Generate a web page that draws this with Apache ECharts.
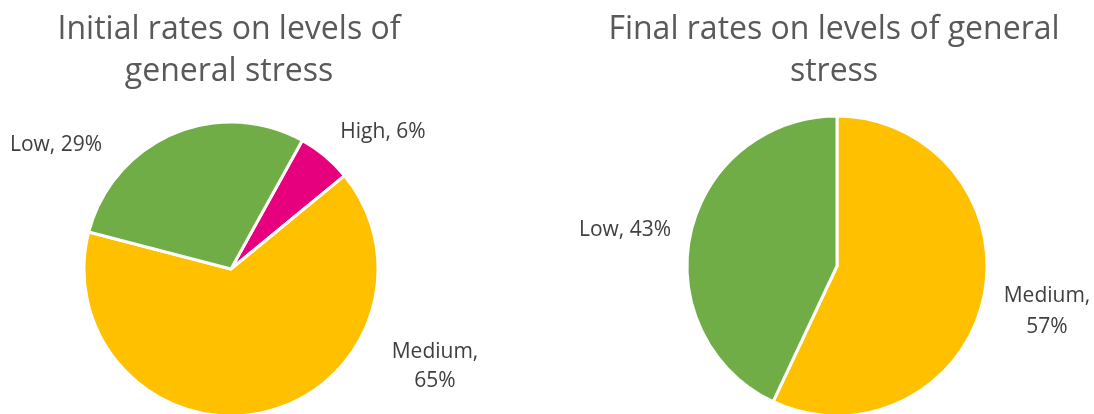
<!DOCTYPE html>
<html>
<head>
<meta charset="utf-8">
<script src="https://cdn.jsdelivr.net/npm/echarts@6/dist/echarts.min.js"></script>
<style>
html,body{margin:0;padding:0;background:#fff;}
#c{width:1094px;height:414px;}
</style>
</head>
<body>
<div id="c"></div>
<script>
// Data
const initialCategories = ['High', 'Medium', 'Low'];
const initialValues = [6, 65, 29];
const finalCategories = ['Medium', 'Low'];
const finalValues = [57, 43];
const titles = ['Initial rates on levels of\ngeneral stress', 'Final rates on levels of general\nstress'];

const colorMap = { High: '#E6007E', Medium: '#FFC000', Low: '#70AD47' };

// Label positions (layout)
const initialLabelPos = [[383, 132], [435, 367], [56, 145]];
const finalLabelPos = [[1047, 312], [625, 230]];

function labelText(p) {
  return p.name === 'Medium' ? p.name + ',\n' + p.value + '%' : p.name + ', ' + p.value + '%';
}

function buildSeries(cats, vals, center, radius, startAngle, pos, lh) {
  return {
    type: 'pie',
    center: center,
    radius: radius,
    startAngle: startAngle,
    clockwise: true,
    animation: false,
    data: cats.map((c, i) => ({ name: c, value: vals[i], itemStyle: { color: colorMap[c] } })),
    itemStyle: { borderColor: '#fff', borderWidth: 3 },
    label: {
      show: true,
      position: 'outside',
      formatter: labelText,
      fontFamily: 'Open Sans',
      fontSize: 21,
      lineHeight: lh,
      color: '#404040',
      align: 'center',
      overflow: 'none'
    },
    labelLine: { show: false },
    labelLayout: function (p) {
      const xy = pos[p.dataIndex];
      return { x: xy[0], y: xy[1], align: 'center', verticalAlign: 'middle' };
    },
    emphasis: { disabled: true }
  };
}

const chart = echarts.init(document.getElementById('c'), null, { renderer: 'canvas' });
const titleStyle = { fontFamily: 'Open Sans', fontSize: 32, fontWeight: 'normal', color: '#595959', lineHeight: 42 };
chart.setOption({
  backgroundColor: '#fff',
  title: [
    { text: titles[0], left: 224, top: 4, textAlign: 'center', textStyle: titleStyle },
    { text: titles[1], left: 829, top: 4, textAlign: 'center', textStyle: titleStyle }
  ],
  series: [
    buildSeries(initialCategories, initialValues, [231, 269], 147, 61, initialLabelPos, 29),
    buildSeries(finalCategories, finalValues, [837, 266], 150, 90, finalLabelPos, 31)
  ]
});
</script>
</body>
</html>
